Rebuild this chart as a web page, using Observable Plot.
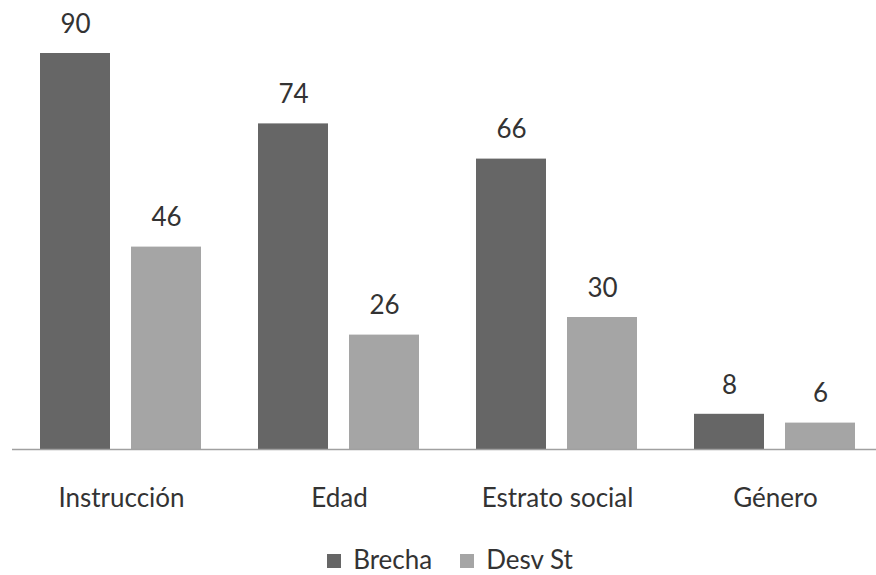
<!DOCTYPE html>
<html><head><meta charset="utf-8">
<script src="https://cdn.jsdelivr.net/npm/d3@7"></script>
<script src="https://cdn.jsdelivr.net/npm/@observablehq/plot@0.6"></script>
<style>
body{margin:0;background:#fff;font-family:Lato,"Open Sans",sans-serif;overflow:hidden}
#legend{display:flex;justify-content:center;align-items:center;gap:28px;height:31px;line-height:31px;font-size:26px;color:#333;margin-left:24px}
#legend span.sw{display:inline-block;width:14px;height:14px;margin-right:12px;vertical-align:1px}
</style></head>
<body>
<div id="chart"></div>
<div id="legend"></div>
<script>
const categories = ["Instrucción", "Edad", "Estrato social", "Género"];
const series = ["Brecha", "Desv St"];
const brecha = [90, 74, 66, 8];
const desvSt = [46, 26, 30, 6];
const colors = ["#666666", "#a5a5a5"];

const data = [];
categories.forEach((c, i) => {
  data.push({category: c, series: series[0], value: brecha[i]});
  data.push({category: c, series: series[1], value: desvSt[i]});
});

const chart = Plot.plot({
  width: 876,
  height: 544,
  marginTop: 53,
  marginBottom: 95,
  marginLeft: 10,
  marginRight: -9,
  style: {fontFamily: "Lato, 'Open Sans', sans-serif", color: "#333", overflow: "visible", display: "block"},
  fx: {domain: categories, padding: 0, label: null},
  x: {domain: series, axis: null, paddingInner: 0.228, paddingOuter: 0.303},
  y: {domain: [0, 90], axis: null},
  color: {domain: series, range: colors},
  marks: [
    Plot.barY(data, {fx: "category", x: "series", y: "value", fill: "series"}),
    Plot.text(data, {fx: "category", x: "series", y: "value", text: d => String(d.value), dy: -29, fontSize: 26, fill: "#333"}),
    Plot.ruleY([0], {stroke: "#a0a0a0", strokeWidth: 1.5}),
    Plot.axisFx({anchor: "bottom", tickSize: 0, tickPadding: 39, fontSize: 26, label: null, fill: "#333"})
  ]
});
document.getElementById("chart").appendChild(chart);

const legend = document.getElementById("legend");
series.forEach((s, i) => {
  const item = document.createElement("div");
  item.innerHTML = `<span class="sw" style="background:${colors[i]}"></span>${s}`;
  legend.appendChild(item);
});
</script>
</body></html>
